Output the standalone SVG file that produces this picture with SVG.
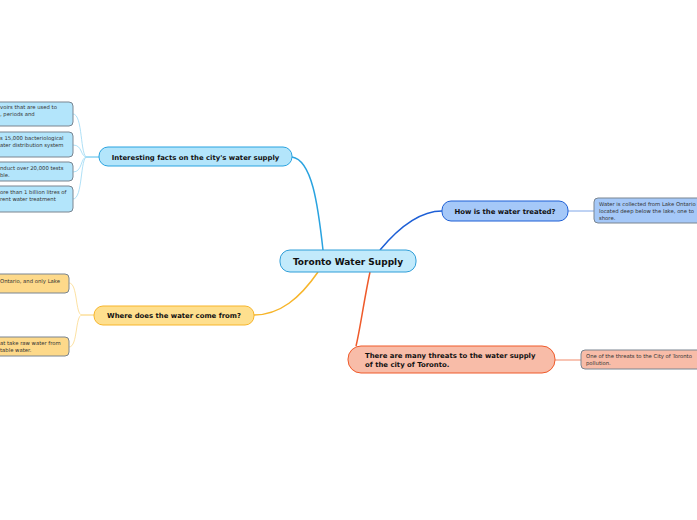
<svg xmlns="http://www.w3.org/2000/svg" width="697" height="520" viewBox="0 0 697 520">
<style>
.main{font-family:"DejaVu Sans",Verdana,sans-serif;font-weight:bold;fill:#111}
.sm{font-family:"DejaVu Sans",Verdana,sans-serif;font-size:5.3px;fill:#333}
.leaf{stroke:#7a8590;stroke-width:1}
.c{fill:none}
</style>
<rect width="697" height="520" fill="#ffffff"/>
<g id="connectors" class="c">
<path d="M323,250 C318,205 312,160 292,157" stroke="#29a3e0" stroke-width="1.5"/>
<path d="M318,272 C300,298 280,315 254,315" stroke="#f7b52a" stroke-width="1.5"/>
<path d="M380,250 C400,226 420,211 442,211" stroke="#1d5fd6" stroke-width="1.5"/>
<path d="M370,272 C364,300 360,330 356,346" stroke="#ef5a2a" stroke-width="1.5"/>
<g stroke="#9ad8f4" stroke-width="0.8">
<path d="M99,157 L87,157 C80,157 83,114 73,114"/>
<path d="M99,157 L87,157 C80,157 83,145 73,145"/>
<path d="M99,157 L87,157 C80,157 83,172 73,172"/>
<path d="M99,157 L87,157 C80,157 83,199 73,199"/>
</g>
<g stroke="#fbd98a" stroke-width="0.8">
<path d="M94,315 L82,315 C75,315 78,283 69,283"/>
<path d="M94,315 L82,315 C75,315 78,347 69,347"/>
</g>
<path d="M568,211 L594,211" stroke="#7fa6e8" stroke-width="1"/>
<path d="M555,360 L581,360" stroke="#f8c4b4" stroke-width="2"/>
</g>
<g id="center">
<rect x="280" y="250" width="136" height="22" rx="10" fill="#c2eafb" stroke="#2f9ed8" stroke-width="1"/>
<text class="main" x="348" y="264.5" font-size="9" text-anchor="middle">Toronto Water Supply</text>
</g>
<g id="facts">
<rect x="99" y="147" width="193" height="19" rx="9" fill="#b3e5fb" stroke="#29a3e0" stroke-width="1"/>
<text class="main" x="195.5" y="159.5" font-size="6.9" text-anchor="middle">Interesting facts on the city's water supply</text>
</g>
<g id="fact1">
<rect x="-10" y="102" width="83" height="24" rx="4" fill="#b3e5fb" class="leaf"/>
<text class="sm" x="0" y="109">voirs that are used to</text>
<text class="sm" x="0" y="116">, periods and</text>
</g>
<g id="fact2">
<rect x="-10" y="132" width="83" height="25" rx="4" fill="#b3e5fb" class="leaf"/>
<text class="sm" x="0" y="140">s 15,000 bacteriological</text>
<text class="sm" x="0" y="147">ater distribution system</text>
</g>
<g id="fact3">
<rect x="-10" y="162" width="83" height="19" rx="4" fill="#b3e5fb" class="leaf"/>
<text class="sm" x="0" y="170">nduct over 20,000 tests</text>
<text class="sm" x="0" y="177">ble.</text>
</g>
<g id="fact4">
<rect x="-10" y="186" width="83" height="26" rx="4" fill="#b3e5fb" class="leaf"/>
<text class="sm" x="0" y="194">ore than 1 billion litres of</text>
<text class="sm" x="0" y="201">rent water treatment</text>
</g>
<g id="source">
<rect x="94" y="306" width="160" height="19" rx="9" fill="#fedf8e" stroke="#f7b52a" stroke-width="1"/>
<text class="main" x="174" y="318" font-size="6.9" text-anchor="middle">Where does the water come from?</text>
</g>
<g id="source1">
<rect x="-10" y="274" width="79" height="19" rx="4" fill="#fdd98a" class="leaf"/>
<text class="sm" x="0" y="283">Ontario, and only Lake</text>
</g>
<g id="source2">
<rect x="-10" y="337" width="79" height="19" rx="4" fill="#fdd98a" class="leaf"/>
<text class="sm" x="0" y="345">at take raw water from</text>
<text class="sm" x="0" y="352">table water.</text>
</g>
<g id="treated">
<rect x="442" y="201" width="126" height="20" rx="9" fill="#a5c8f8" stroke="#1d5fd6" stroke-width="1"/>
<text class="main" x="505" y="213.5" font-size="6.9" text-anchor="middle">How is the water treated?</text>
</g>
<g id="treated1">
<rect x="594" y="198" width="113" height="25" rx="4" fill="#a5c8f8" class="leaf"/>
<text class="sm" x="599" y="206">Water is collected from Lake Ontario</text>
<text class="sm" x="599" y="213">located deep below the lake, one to</text>
<text class="sm" x="599" y="219.5">shore.</text>
</g>
<g id="threats">
<rect x="348" y="346" width="207" height="27" rx="13" fill="#f8bca8" stroke="#ef5a2a" stroke-width="1"/>
<text class="main" x="365" y="357.5" font-size="6.9">There are many threats to the water supply</text>
<text class="main" x="365" y="367" font-size="6.9">of the city of Toronto.</text>
</g>
<g id="threats1">
<rect x="581" y="350" width="126" height="19" rx="4" fill="#f8bca8" class="leaf"/>
<text class="sm" x="586" y="358">One of the threats to the City of Toronto</text>
<text class="sm" x="586" y="365">pollution.</text>
</g>
</svg>
